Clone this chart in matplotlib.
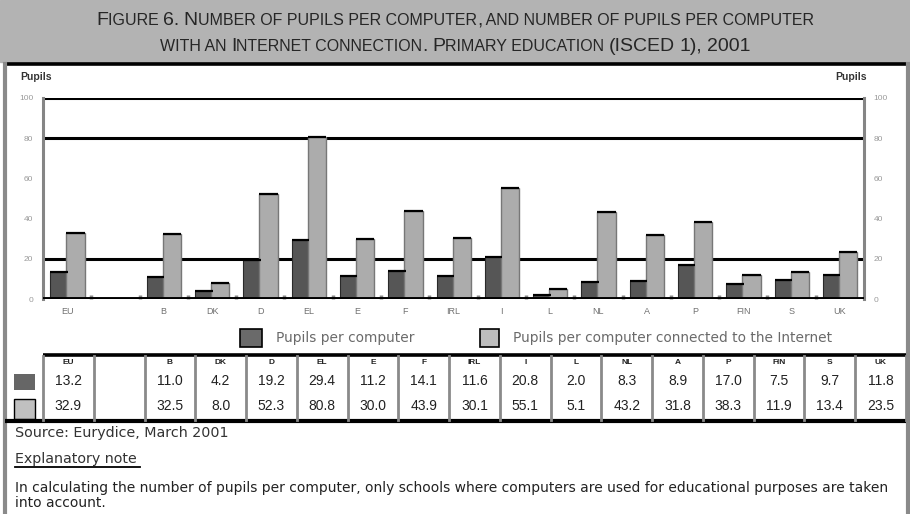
import matplotlib
matplotlib.use('Agg')
import matplotlib.pyplot as plt
import numpy as np
from matplotlib.patches import Rectangle

# ---------------- data ----------------
countries = ['EU', '', 'B', 'DK', 'D', 'EL', 'E', 'F', 'IRL', 'I', 'L', 'NL', 'A', 'P', 'FIN', 'S', 'UK']
per_computer = [13.2, np.nan, 11.0, 4.2, 19.2, 29.4, 11.2, 14.1, 11.6, 20.8, 2.0, 8.3, 8.9, 17.0, 7.5, 9.7, 11.8]
per_internet = [32.9, np.nan, 32.5, 8.0, 52.3, 80.8, 30.0, 43.9, 30.1, 55.1, 5.1, 43.2, 31.8, 38.3, 11.9, 13.4, 23.5]
y_ticks = [0, 20, 40, 60, 80, 100]
gridlines = [20, 80, 100]
series_labels = ['Pupils per computer', 'Pupils per computer connected to the Internet']
title_lines = ['Figure 6. Number of pupils per computer, and number of pupils per computer',
               'with an Internet connection. Primary education (ISCED 1), 2001']
source_text = 'Source: Eurydice, March 2001'
note_title = 'Explanatory note'
note_lines = ['In calculating the number of pupils per computer, only schools where computers are used for educational purposes are taken',
              'into account.']

plt.rcParams['font.family'] = ['Liberation Sans', 'DejaVu Sans']

W, H = 910, 514
fig = plt.figure(figsize=(W / 100, H / 100), dpi=100)

DARK = '#565656'
LIGHT = '#acacac'

# ---------------- main chart ----------------
ax = fig.add_axes([43 / W, 1 - 299 / H, 821 / W, 201 / H])
x = np.arange(len(countries))
wd, wl = 0.36, 0.38
od, ol = -0.17, 0.17
ax.bar(x + od, per_computer, wd, color=DARK, edgecolor='#2a2a2a', lw=0.8, zorder=3)
ax.bar(x + ol, per_internet, wl, color=LIGHT, edgecolor='#777777', lw=1.0, zorder=3)
pc = np.array(per_computer)
pi = np.array(per_internet)
ax.hlines(pc, x + od - wd / 2, x + od + wd / 2, color='black', lw=1.6, zorder=4)
ax.hlines(pi, x + ol - wl / 2, x + ol + wl / 2, color='black', lw=1.6, zorder=4)
ax.hlines(gridlines, -0.5, len(countries) - 0.5, color='black', lw=2.2, zorder=2)
ax.axhline(0, color='black', lw=2.8, zorder=5)
ax.set_xlim(-0.5, len(countries) - 0.5)
ax.set_ylim(0, 100)
for s in ['top', 'bottom']:
    ax.spines[s].set_visible(False)
for s in ['left', 'right']:
    ax.spines[s].set_color('#858585')
    ax.spines[s].set_linewidth(2.2)
ax.set_yticks(y_ticks)
ax.tick_params(axis='y', left=True, right=True, labelleft=True, labelright=True,
               length=0, labelsize=6, labelcolor='#9a9a9a', pad=7)
ax.set_xticks(x)
ax.set_xticklabels(countries)
ax.tick_params(axis='x', length=0, labelsize=6.5, labelcolor='#707070', pad=6)
ax.set_xticks(np.arange(0.5, len(countries) - 0.5, 1), minor=True)
ax.tick_params(axis='x', which='minor', length=3, width=2.5, direction='in', color='#8a8a8a')

# ---------------- overlay in pixel coords ----------------
ov = fig.add_axes([0, 0, 1, 1])
ov.set_xlim(0, W)
ov.set_ylim(H, 0)
ov.axis('off')
renderer = fig.canvas.get_renderer()


def text_width(s, size):
    a = ov.text(0, 0, s + '|', fontsize=size)
    b = ov.text(0, 0, '|', fontsize=size)
    w = a.get_window_extent(renderer).width - b.get_window_extent(renderer).width
    a.remove()
    b.remove()
    return w


def small_caps(s, xc, y, big, small, color):
    runs = []
    for ch in s:
        is_small = ch.islower() or ch == ' '
        if runs and runs[-1][1] == is_small:
            runs[-1][0] += ch
        else:
            runs.append([ch, is_small])
    items = []
    total = 0
    for txt, is_small in runs:
        size = small if is_small else big
        t = txt.upper()
        w = text_width(t, size)
        items.append((t, size, w))
        total += w
    xx = xc - total / 2
    for t, size, w in items:
        ov.text(xx, y, t, fontsize=size, color=color, va='baseline', ha='left')
        xx += w


ov.add_patch(Rectangle((0, 0), W, 62, color='#b3b3b3', zorder=0))
small_caps(title_lines[0], W / 2, 25, 14, 11.5, '#262626')
small_caps(title_lines[1], W / 2, 51, 14, 11.5, '#262626')

ov.plot([5, 907], [64, 64], color='black', lw=2.6, solid_capstyle='butt')
ov.plot([5, 5], [64, 514], color='#8a8a8a', lw=3)
ov.plot([908, 908], [64, 514], color='#8a8a8a', lw=3)

ov.text(20, 77, 'Pupils', fontsize=7.5, color='#333333', va='center', fontweight='bold')
ov.text(835, 77, 'Pupils', fontsize=7.5, color='#333333', va='center', fontweight='bold')

# legend
ov.add_patch(Rectangle((240, 329), 22, 18, facecolor='#6a6a6a', edgecolor='black', lw=1.2))
ov.text(276, 338, series_labels[0], fontsize=9.9, color='#6a6a6a', va='center', family='DejaVu Sans')
ov.add_patch(Rectangle((480, 329), 19, 18, facecolor='#bdbdbd', edgecolor='black', lw=1.2))
ov.text(513, 338, series_labels[1], fontsize=9.9, color='#6a6a6a', va='center', family='DejaVu Sans')

# table
n = len(countries)
x0, x1 = 43, 906
cw = (x1 - x0) / n
ov.plot([x0, x1], [355, 355], color='black', lw=2.6, solid_capstyle='butt')
ov.plot([5, x1], [421, 421], color='black', lw=3, solid_capstyle='butt')
for k in range(n + 1):
    ov.plot([x0 + k * cw, x0 + k * cw], [356, 420], color='#8a8a8a', lw=2)
for k in range(n):
    cx = x0 + (k + 0.5) * cw
    ov.text(cx, 363, countries[k], ha='center', va='center', fontsize=6, color='#222222', fontweight='bold')
    if not np.isnan(per_computer[k]):
        ov.text(cx, 381, f'{per_computer[k]:.1f}', ha='center', va='center', fontsize=10, color='#222222')
    if not np.isnan(per_internet[k]):
        ov.text(cx, 406, f'{per_internet[k]:.1f}', ha='center', va='center', fontsize=10, color='#222222')
ov.add_patch(Rectangle((14, 374), 21, 16, facecolor='#666666', edgecolor='none'))
ov.add_patch(Rectangle((14, 399), 21, 20, facecolor='#c0c0c0', edgecolor='black', lw=1))

# footer
ov.text(15, 433, source_text, fontsize=10.3, color='#333333', va='center', family='DejaVu Sans')
ov.text(15, 459, note_title, fontsize=10.3, color='#333333', va='center', family='DejaVu Sans')
ov.plot([15, 140], [467, 467], color='black', lw=1.3)
ov.text(15, 488, note_lines[0], fontsize=10.0, color='#222222', va='center', family='DejaVu Sans')
ov.text(15, 503, note_lines[1], fontsize=10.0, color='#222222', va='center', family='DejaVu Sans')

fig.savefig('out.png', dpi=100)
